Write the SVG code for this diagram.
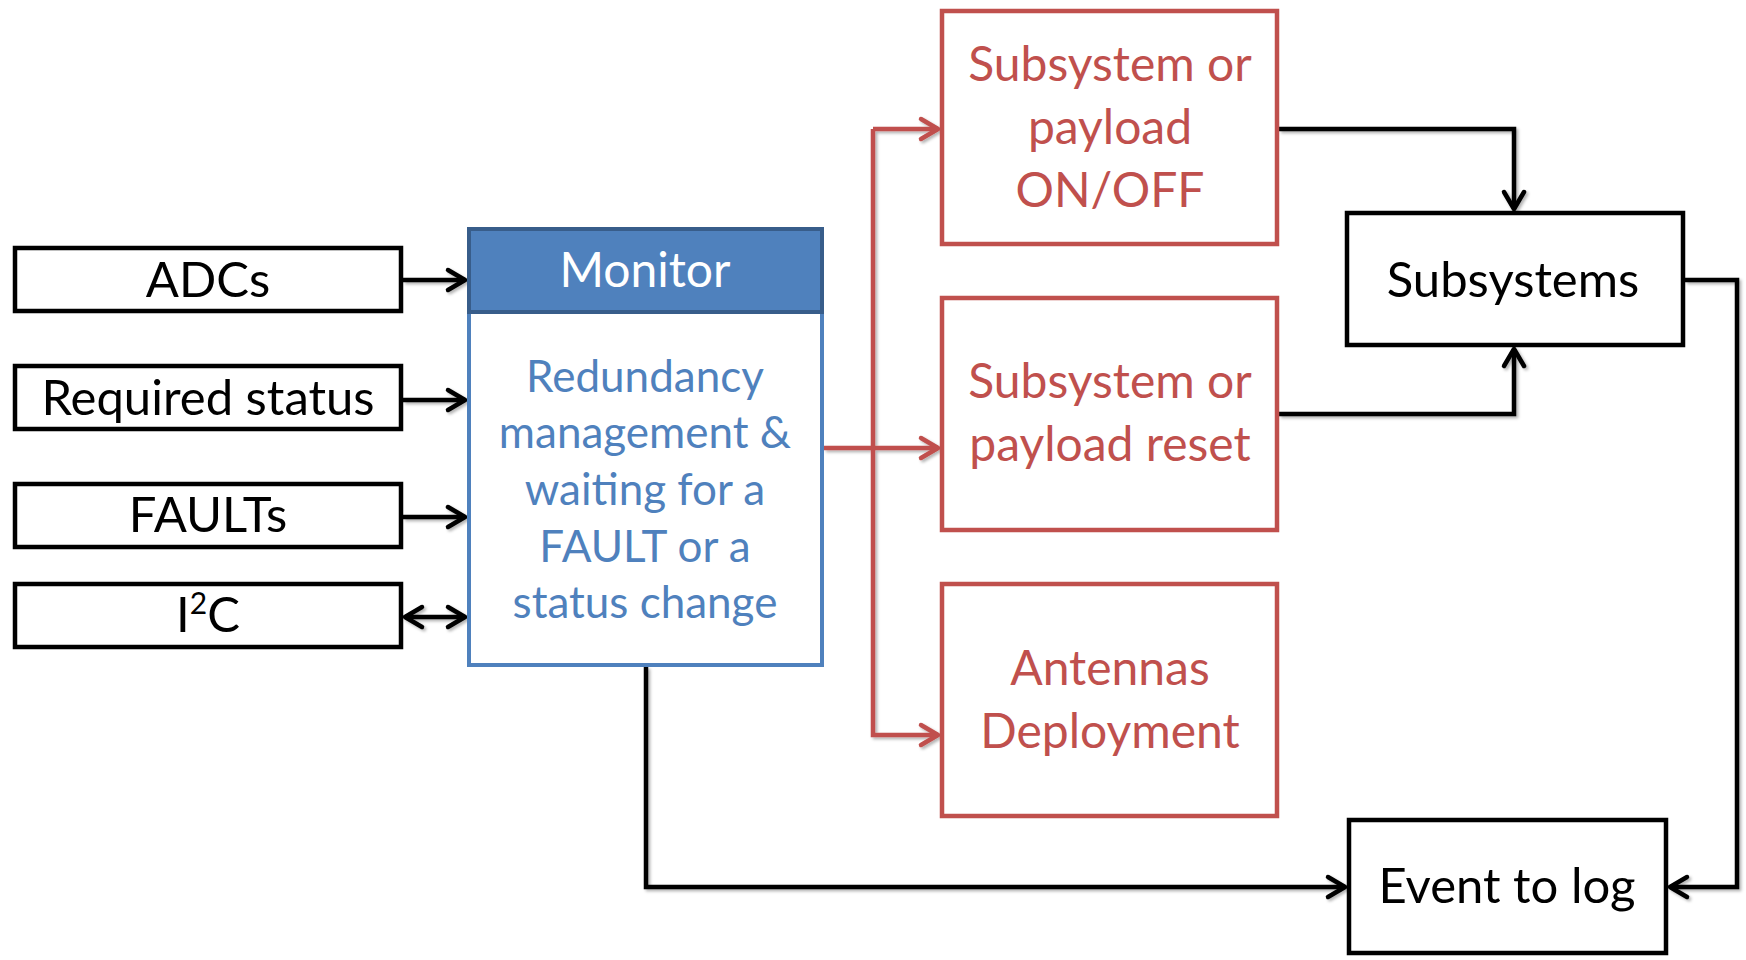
<svg xmlns="http://www.w3.org/2000/svg" width="1746" height="960" viewBox="0 0 1746 960">
<style>
text{font-family:Lato,"Liberation Sans",sans-serif;text-anchor:middle}
.bk{fill:#fff;stroke:#000;stroke-width:4.5}
.rd{fill:#fff;stroke:#C0504D;stroke-width:4.5}
.tb{fill:#000;font-size:49px}
.tr{fill:#C0504D;font-size:48px}
.tw{fill:#fff;font-size:48px}
.tl{fill:#4F81BD;font-size:44px}
.cb{fill:none;stroke:#000;stroke-width:4.5}
.cr{fill:none;stroke:#C0504D;stroke-width:4.5}
</style>
<defs>
<filter id="sh" x="-5%" y="-5%" width="110%" height="110%"><feDropShadow dx="2" dy="2" stdDeviation="1.5" flood-color="#000" flood-opacity="0.3"/></filter>
<marker id="ab" markerUnits="userSpaceOnUse" viewBox="-22 -14 26 28" refX="0" refY="0" markerWidth="26" markerHeight="28" orient="auto-start-reverse"><path d="M-17 -10 L0 0 L-17 10" fill="none" stroke="#000" stroke-width="4.5" stroke-linejoin="round" stroke-linecap="round"/></marker>
<marker id="ar" markerUnits="userSpaceOnUse" viewBox="-22 -14 26 28" refX="0" refY="0" markerWidth="26" markerHeight="28" orient="auto-start-reverse"><path d="M-17 -10 L0 0 L-17 10" fill="none" stroke="#C0504D" stroke-width="4.5" stroke-linejoin="round" stroke-linecap="round"/></marker>
</defs>
<g id="connectors" filter="url(#sh)">
<path class="cb" d="M403 280 H465" marker-end="url(#ab)"/>
<path class="cb" d="M403 400 H465" marker-end="url(#ab)"/>
<path class="cb" d="M403 517 H465" marker-end="url(#ab)"/>
<path class="cb" d="M405 617 H465" marker-start="url(#ab)" marker-end="url(#ab)"/>
<path class="cr" d="M824 448 H938" marker-end="url(#ar)"/>
<path class="cr" d="M873 129 H938" marker-end="url(#ar)"/>
<path class="cr" d="M873 129 V735 H938" marker-end="url(#ar)"/>
<path class="cb" d="M1279 129 H1514 V209" marker-end="url(#ab)"/>
<path class="cb" d="M1279 414 H1514 V349" marker-end="url(#ab)"/>
<path class="cb" d="M1685 280 H1737 V887 H1670" marker-end="url(#ab)"/>
<path class="cb" d="M646 667 V887 H1345" marker-end="url(#ab)"/>
</g>
<g id="adcs"><rect class="bk" x="15" y="248" width="386" height="63"/><text class="tb" x="208" y="297">ADCs</text></g>
<g id="required-status"><rect class="bk" x="15" y="366" width="386" height="63"/><text class="tb" x="208" y="415">Required status</text></g>
<g id="faults"><rect class="bk" x="15" y="484" width="386" height="63"/><text class="tb" x="208" y="532">FAULTs</text></g>
<g id="i2c"><rect class="bk" x="15" y="584" width="386" height="63"/><text class="tb" x="208" y="632">I<tspan font-size="30" dy="-18">2</tspan><tspan dy="18">C</tspan></text></g>
<g id="monitor">
<rect x="469" y="229" width="353" height="436" fill="#fff" stroke="#4F81BD" stroke-width="4"/>
<rect x="469" y="229" width="353" height="83" fill="#4F81BD" stroke="#385D8A" stroke-width="4"/>
<text class="tw" x="645" y="287">Monitor</text>
<text class="tl" x="645" y="392">Redundancy</text>
<text class="tl" x="645" y="448">management &amp;</text>
<text class="tl" x="645" y="505">waiting for a</text>
<text class="tl" x="645" y="562">FAULT or a</text>
<text class="tl" x="645" y="618">status change</text>
</g>
<g id="onoff"><rect class="rd" x="942" y="11" width="335" height="233"/><text class="tr" x="1110" y="81">Subsystem or</text><text class="tr" x="1110" y="144">payload</text><text class="tr" x="1110" y="207">ON/OFF</text></g>
<g id="reset"><rect class="rd" x="942" y="298" width="335" height="232"/><text class="tr" x="1110" y="398">Subsystem or</text><text class="tr" x="1110" y="461">payload reset</text></g>
<g id="antennas"><rect class="rd" x="942" y="584" width="335" height="232"/><text class="tr" x="1110" y="685">Antennas</text><text class="tr" x="1110" y="748">Deployment</text></g>
<g id="subsystems"><rect class="bk" x="1347" y="213" width="336" height="132"/><text class="tb" x="1513" y="297">Subsystems</text></g>
<g id="event-log"><rect class="bk" x="1349" y="820" width="317" height="133"/><text class="tb" x="1507" y="903">Event to log</text></g>
</svg>
